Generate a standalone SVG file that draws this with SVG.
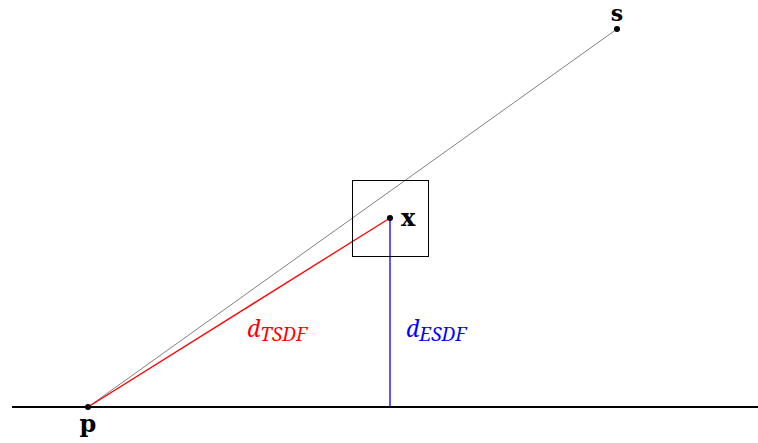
<svg xmlns="http://www.w3.org/2000/svg" width="758" height="443" viewBox="0 0 758 443">
<style>
.lbl{font-family:"DejaVu Serif","Liberation Serif",serif;font-weight:bold;font-size:24px;fill:#000}
.d{font-family:"Noto Serif","DejaVu Serif","Liberation Serif",serif;font-style:italic;font-size:23px}
.sub{font-size:19px}
.dot{fill:#000}
</style>
<rect width="758" height="443" fill="#fff"/>
<g id="connectors" fill="none">
<line x1="12" y1="407" x2="758" y2="407" stroke="#000" stroke-width="2"/>
<line x1="88" y1="407" x2="617" y2="29" stroke="#808080" stroke-width="1"/>
<line x1="88" y1="407" x2="390" y2="218" stroke="#ff0000" stroke-width="1.3"/>
<line x1="390" y1="218" x2="390" y2="407" stroke="#0000ff" stroke-width="1.3"/>
</g>
<g id="box"><rect x="352.5" y="180.5" width="76" height="76" fill="none" stroke="#000" stroke-width="1"/></g>
<g id="node-s"><circle class="dot" cx="617" cy="29" r="3"/><text class="lbl" x="617" y="21" text-anchor="middle" style="font-size:22px">s</text></g>
<g id="node-x"><circle class="dot" cx="390" cy="218" r="3"/><text class="lbl" x="401" y="226">x</text></g>
<g id="node-p"><circle class="dot" cx="88" cy="407" r="3"/><text class="lbl" x="88" y="432" text-anchor="middle">p</text></g>
<g id="label-tsdf"><text class="d" x="247" y="337" fill="#ff0000">d<tspan class="sub" dy="4">TSDF</tspan></text></g>
<g id="label-esdf"><text class="d" x="406" y="337" fill="#0000ff">d<tspan class="sub" dy="4">ESDF</tspan></text></g>
</svg>
